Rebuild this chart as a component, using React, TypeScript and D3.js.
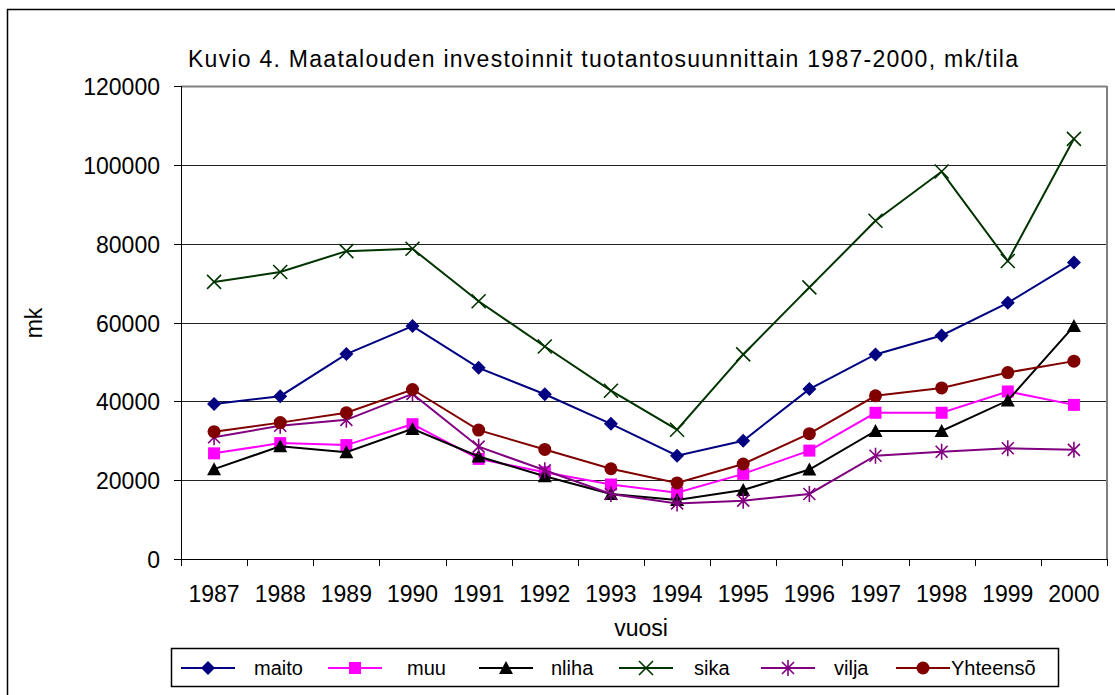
import React, { useEffect, useRef } from 'react';
import * as d3 from 'd3';

// years on the x axis
const years = ['1987', '1988', '1989', '1990', '1991', '1992', '1993', '1994', '1995', '1996', '1997', '1998', '1999', '2000'];

// series values, mk/tila
const maito = [39300, 41300, 52000, 59100, 48500, 41800, 34300, 26200, 30000, 43100, 51900, 56700, 65000, 75200];
const muu = [26800, 29400, 28900, 34200, 25400, 22000, 18900, 16800, 21600, 27500, 37100, 37100, 42500, 39100];
const nliha = [22800, 28600, 27100, 33000, 26000, 21000, 16500, 15000, 17500, 22700, 32500, 32500, 40200, 59100];
const sika = [70300, 72800, 78100, 78700, 65400, 53900, 42700, 32800, 51900, 68900, 85800, 98300, 75600, 106600];
const vilja = [30900, 33800, 35300, 41900, 28500, 22500, 16500, 14100, 14800, 16500, 26200, 27200, 28100, 27700];
const yhteensa = [32300, 34600, 37100, 43000, 32700, 27800, 22900, 19300, 24100, 31800, 41400, 43400, 47300, 50200];

const seriesNames = ['maito', 'muu', 'nliha', 'sika', 'vilja', 'Yhteensõ'];
const seriesValues = [maito, muu, nliha, sika, vilja, yhteensa];
const seriesColors = ['#000080', '#ff00ff', '#000000', '#003300', '#800080', '#800000'];
const seriesMarkers = ['diamond', 'square', 'triangle', 'x', 'asterisk', 'circle'];

const yTicks = [0, 20000, 40000, 60000, 80000, 100000, 120000];

const title = 'Kuvio 4. Maatalouden investoinnit tuotantosuunnittain 1987-2000, mk/tila';

const FONT = '"Liberation Sans", Arial, sans-serif';

function drawMarker(sel, type, cx, cy, color) {
  const g = sel.append('g').attr('transform', `translate(${cx},${cy})`);
  if (type === 'diamond') {
    g.append('path').attr('d', 'M0,-7L7,0L0,7L-7,0Z').attr('fill', color);
  } else if (type === 'square') {
    g.append('rect').attr('x', -6).attr('y', -6).attr('width', 12).attr('height', 12).attr('fill', color);
  } else if (type === 'triangle') {
    g.append('path').attr('d', 'M0,-7L7,6L-7,6Z').attr('fill', color);
  } else if (type === 'circle') {
    g.append('circle').attr('r', 6.5).attr('fill', color);
  } else if (type === 'x') {
    g.append('path').attr('d', 'M-7,-7L7,7M-7,7L7,-7').attr('stroke', color).attr('stroke-width', 1.6).attr('fill', 'none');
  } else if (type === 'asterisk') {
    g.append('path').attr('d', 'M-6,-6L6,6M-6,6L6,-6M0,-8L0,8').attr('stroke', color).attr('stroke-width', 1.6).attr('fill', 'none');
  }
}

export default function App() {
  const svgRef = useRef(null);
  const width = 1115;
  const height = 695;

  useEffect(() => {
    const svg = d3.select(svgRef.current);
    svg.selectAll('*').remove();

    const left = 181, right = 1107, top = 86, bottom = 559;

    const x = d3.scaleBand().domain(years).range([left, right]).padding(0);
    const y = d3.scaleLinear().domain([0, 120000]).range([bottom, top]);

    // outer chart frame
    svg.append('rect')
      .attr('x', 7.5).attr('y', 9.5).attr('width', 1120).attr('height', 700)
      .attr('fill', 'white').attr('stroke', '#000').attr('stroke-width', 1.5);

    // title
    svg.append('text')
      .attr('x', 188).attr('y', 67)
      .attr('textLength', 830).attr('lengthAdjust', 'spacing')
      .attr('font-family', FONT).attr('font-size', 23)
      .text(title);

    // gridlines
    svg.append('g')
      .selectAll('line')
      .data(yTicks.filter(d => d > 0)).enter().append('line')
      .attr('x1', left).attr('x2', right)
      .attr('y1', d => Math.round(y(d)) + 0.5).attr('y2', d => Math.round(y(d)) + 0.5)
      .attr('stroke', d => d === 120000 ? '#808080' : '#222')
      .attr('stroke-width', d => d === 120000 ? 2 : 1);

    // right plot border
    svg.append('line')
      .attr('x1', right).attr('x2', right).attr('y1', top).attr('y2', bottom)
      .attr('stroke', '#808080').attr('stroke-width', 2);

    // y axis
    svg.append('line')
      .attr('x1', left + 0.5).attr('x2', left + 0.5).attr('y1', top).attr('y2', bottom + 7)
      .attr('stroke', '#000');
    const yAxis = svg.append('g');
    yTicks.forEach(t => {
      const yy = Math.round(y(t)) + 0.5;
      yAxis.append('line').attr('x1', left - 7).attr('x2', left).attr('y1', yy).attr('y2', yy).attr('stroke', '#000');
      yAxis.append('text')
        .attr('x', 160).attr('y', yy + 8)
        .attr('text-anchor', 'end')
        .attr('font-family', FONT).attr('font-size', 23)
        .text(t);
    });

    // x axis
    svg.append('line')
      .attr('x1', left).attr('x2', right).attr('y1', bottom + 0.5).attr('y2', bottom + 0.5)
      .attr('stroke', '#000');
    const xAxis = svg.append('g');
    years.concat(['end']).forEach((yr, i) => {
      const xx = Math.round(i < years.length ? x(yr) : right) + 0.5;
      xAxis.append('line').attr('x1', xx).attr('x2', xx).attr('y1', bottom).attr('y2', bottom + 7).attr('stroke', '#000');
    });
    years.forEach(yr => {
      xAxis.append('text')
        .attr('x', x(yr) + x.bandwidth() / 2).attr('y', 602)
        .attr('text-anchor', 'middle')
        .attr('font-family', FONT).attr('font-size', 23)
        .text(yr);
    });

    // axis titles
    svg.append('text')
      .attr('transform', 'translate(42,323) rotate(-90)')
      .attr('text-anchor', 'middle')
      .attr('font-family', FONT).attr('font-size', 23)
      .text('mk');
    svg.append('text')
      .attr('x', 641).attr('y', 636)
      .attr('text-anchor', 'middle')
      .attr('font-family', FONT).attr('font-size', 23)
      .text('vuosi');

    // series
    const line = d3.line()
      .x((d, i) => x(years[i]) + x.bandwidth() / 2)
      .y(d => y(d));

    seriesValues.forEach((vals, s) => {
      svg.append('path')
        .attr('d', line(vals))
        .attr('fill', 'none')
        .attr('stroke', seriesColors[s])
        .attr('stroke-width', 2);
      vals.forEach((v, i) => {
        drawMarker(svg, seriesMarkers[s], x(years[i]) + x.bandwidth() / 2, y(v), seriesColors[s]);
      });
    });

    // legend
    svg.append('rect')
      .attr('x', 171.5).attr('y', 648.5).attr('width', 887).attr('height', 38)
      .attr('fill', 'white').attr('stroke', '#000').attr('stroke-width', 1.5);
    const legendLineX = [181, 328, 479, 619, 761, 896];
    const legendTextX = [254, 407, 551, 694, 834, 951];
    seriesNames.forEach((name, s) => {
      const lx = legendLineX[s];
      const ly = 668;
      svg.append('line')
        .attr('x1', lx).attr('x2', lx + 54).attr('y1', ly).attr('y2', ly)
        .attr('stroke', seriesColors[s]).attr('stroke-width', 2);
      drawMarker(svg, seriesMarkers[s], lx + 27, ly, seriesColors[s]);
      svg.append('text')
        .attr('x', legendTextX[s]).attr('y', ly + 7)
        .attr('font-family', FONT).attr('font-size', 20)
        .text(name);
    });
  }, []);

  return (
    <svg
      ref={svgRef}
      width={width}
      height={height}
      style={{ position: 'absolute', left: 0, top: 0, background: 'white' }}
    />
  );
}
